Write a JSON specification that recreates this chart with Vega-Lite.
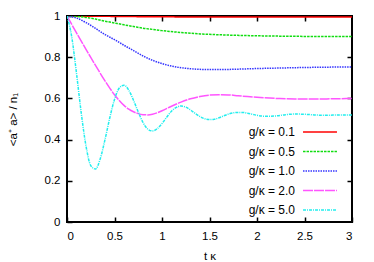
{
  "$schema": "https://vega.github.io/schema/vega-lite/v6.json",
  "width": 285,
  "height": 206,
  "autosize": {"type": "none"},
  "padding": {"left": 67, "top": 16, "right": 22, "bottom": 40},
  "background": "white",
  "config": {
    "view": {"stroke": "black", "strokeWidth": 2},
    "font": "Liberation Sans",
    "axis": {
      "grid": false,
      "domain": false,
      "tickColor": "black",
      "tickSize": -5,
      "tickWidth": 1.5,
      "labelFont": "Liberation Sans",
      "labelFontSize": 11.5,
      "labelColor": "black",
      "titleFont": "Liberation Sans",
      "titleFontSize": 11.5,
      "titleFontWeight": "normal",
      "titleColor": "black"
    },
    "legend": {
      "orient": "none",
      "legendX": 247,
      "legendY": 110,
      "title": null,
      "symbolType": "M-4,0H4",
      "symbolSize": 72,
      "symbolStrokeWidth": 1.5,
      "labelAlign": "right",
      "labelOffset": -31,
      "rowPadding": 7.5,
      "padding": 0,
      "labelFont": "Liberation Sans",
      "labelFontSize": 12,
      "labelColor": "black"
    }
  },
  "datasets": {
    "curves": [
      {"g": "g/κ = 0.1", "t": 0, "v": 1.0},
      {"g": "g/κ = 0.1", "t": 0.5, "v": 0.998},
      {"g": "g/κ = 0.1", "t": 1.0, "v": 0.996},
      {"g": "g/κ = 0.1", "t": 2.0, "v": 0.995},
      {"g": "g/κ = 0.1", "t": 3.0, "v": 0.995},

      {"g": "g/κ = 0.5", "t": 0, "v": 1.0},
      {"g": "g/κ = 0.5", "t": 0.1, "v": 0.998},
      {"g": "g/κ = 0.5", "t": 0.2, "v": 0.993},
      {"g": "g/κ = 0.5", "t": 0.3, "v": 0.985},
      {"g": "g/κ = 0.5", "t": 0.4, "v": 0.975},
      {"g": "g/κ = 0.5", "t": 0.5, "v": 0.966},
      {"g": "g/κ = 0.5", "t": 0.6, "v": 0.957},
      {"g": "g/κ = 0.5", "t": 0.7, "v": 0.949},
      {"g": "g/κ = 0.5", "t": 0.8, "v": 0.941},
      {"g": "g/κ = 0.5", "t": 0.9, "v": 0.935},
      {"g": "g/κ = 0.5", "t": 1.0, "v": 0.929},
      {"g": "g/κ = 0.5", "t": 1.2, "v": 0.92},
      {"g": "g/κ = 0.5", "t": 1.4, "v": 0.913},
      {"g": "g/κ = 0.5", "t": 1.6, "v": 0.909},
      {"g": "g/κ = 0.5", "t": 1.8, "v": 0.906},
      {"g": "g/κ = 0.5", "t": 2.0, "v": 0.904},
      {"g": "g/κ = 0.5", "t": 2.5, "v": 0.901},
      {"g": "g/κ = 0.5", "t": 3.0, "v": 0.9},

      {"g": "g/κ = 1.0", "t": 0, "v": 1.0},
      {"g": "g/κ = 1.0", "t": 0.1, "v": 0.99},
      {"g": "g/κ = 1.0", "t": 0.2, "v": 0.968},
      {"g": "g/κ = 1.0", "t": 0.3, "v": 0.94},
      {"g": "g/κ = 1.0", "t": 0.4, "v": 0.91},
      {"g": "g/κ = 1.0", "t": 0.5, "v": 0.885},
      {"g": "g/κ = 1.0", "t": 0.6, "v": 0.858},
      {"g": "g/κ = 1.0", "t": 0.7, "v": 0.832},
      {"g": "g/κ = 1.0", "t": 0.8, "v": 0.806},
      {"g": "g/κ = 1.0", "t": 0.9, "v": 0.785},
      {"g": "g/κ = 1.0", "t": 1.0, "v": 0.769},
      {"g": "g/κ = 1.0", "t": 1.1, "v": 0.757},
      {"g": "g/κ = 1.0", "t": 1.2, "v": 0.749},
      {"g": "g/κ = 1.0", "t": 1.3, "v": 0.744},
      {"g": "g/κ = 1.0", "t": 1.4, "v": 0.741},
      {"g": "g/κ = 1.0", "t": 1.5, "v": 0.74},
      {"g": "g/κ = 1.0", "t": 1.6, "v": 0.74},
      {"g": "g/κ = 1.0", "t": 1.8, "v": 0.742},
      {"g": "g/κ = 1.0", "t": 2.0, "v": 0.745},
      {"g": "g/κ = 1.0", "t": 2.2, "v": 0.747},
      {"g": "g/κ = 1.0", "t": 2.5, "v": 0.75},
      {"g": "g/κ = 1.0", "t": 2.8, "v": 0.752},
      {"g": "g/κ = 1.0", "t": 3.0, "v": 0.753},

      {"g": "g/κ = 2.0", "t": 0, "v": 1.0},
      {"g": "g/κ = 2.0", "t": 0.05, "v": 0.959},
      {"g": "g/κ = 2.0", "t": 0.1, "v": 0.918},
      {"g": "g/κ = 2.0", "t": 0.15, "v": 0.878},
      {"g": "g/κ = 2.0", "t": 0.2, "v": 0.838},
      {"g": "g/κ = 2.0", "t": 0.25, "v": 0.799},
      {"g": "g/κ = 2.0", "t": 0.3, "v": 0.76},
      {"g": "g/κ = 2.0", "t": 0.35, "v": 0.722},
      {"g": "g/κ = 2.0", "t": 0.4, "v": 0.685},
      {"g": "g/κ = 2.0", "t": 0.45, "v": 0.65},
      {"g": "g/κ = 2.0", "t": 0.5, "v": 0.618},
      {"g": "g/κ = 2.0", "t": 0.55, "v": 0.59},
      {"g": "g/κ = 2.0", "t": 0.6, "v": 0.566},
      {"g": "g/κ = 2.0", "t": 0.65, "v": 0.548},
      {"g": "g/κ = 2.0", "t": 0.7, "v": 0.535},
      {"g": "g/κ = 2.0", "t": 0.75, "v": 0.526},
      {"g": "g/κ = 2.0", "t": 0.8, "v": 0.521},
      {"g": "g/κ = 2.0", "t": 0.85, "v": 0.52},
      {"g": "g/κ = 2.0", "t": 0.9, "v": 0.523},
      {"g": "g/κ = 2.0", "t": 0.95, "v": 0.53},
      {"g": "g/κ = 2.0", "t": 1.0, "v": 0.54},
      {"g": "g/κ = 2.0", "t": 1.1, "v": 0.562},
      {"g": "g/κ = 2.0", "t": 1.2, "v": 0.582},
      {"g": "g/κ = 2.0", "t": 1.3, "v": 0.598},
      {"g": "g/κ = 2.0", "t": 1.4, "v": 0.609},
      {"g": "g/κ = 2.0", "t": 1.5, "v": 0.616},
      {"g": "g/κ = 2.0", "t": 1.6, "v": 0.618},
      {"g": "g/κ = 2.0", "t": 1.7, "v": 0.617},
      {"g": "g/κ = 2.0", "t": 1.8, "v": 0.613},
      {"g": "g/κ = 2.0", "t": 1.9, "v": 0.609},
      {"g": "g/κ = 2.0", "t": 2.0, "v": 0.605},
      {"g": "g/κ = 2.0", "t": 2.2, "v": 0.6},
      {"g": "g/κ = 2.0", "t": 2.4, "v": 0.597},
      {"g": "g/κ = 2.0", "t": 2.6, "v": 0.597},
      {"g": "g/κ = 2.0", "t": 2.8, "v": 0.598},
      {"g": "g/κ = 2.0", "t": 3.0, "v": 0.6},

      {"g": "g/κ = 5.0", "t": 0, "v": 1.0},
      {"g": "g/κ = 5.0", "t": 0.05, "v": 0.898},
      {"g": "g/κ = 5.0", "t": 0.1, "v": 0.722},
      {"g": "g/κ = 5.0", "t": 0.15, "v": 0.529},
      {"g": "g/κ = 5.0", "t": 0.2, "v": 0.369},
      {"g": "g/κ = 5.0", "t": 0.25, "v": 0.274},
      {"g": "g/κ = 5.0", "t": 0.3, "v": 0.257},
      {"g": "g/κ = 5.0", "t": 0.35, "v": 0.307},
      {"g": "g/κ = 5.0", "t": 0.4, "v": 0.4},
      {"g": "g/κ = 5.0", "t": 0.45, "v": 0.505},
      {"g": "g/κ = 5.0", "t": 0.5, "v": 0.595},
      {"g": "g/κ = 5.0", "t": 0.55, "v": 0.65},
      {"g": "g/κ = 5.0", "t": 0.6, "v": 0.664},
      {"g": "g/κ = 5.0", "t": 0.65, "v": 0.64},
      {"g": "g/κ = 5.0", "t": 0.7, "v": 0.591},
      {"g": "g/κ = 5.0", "t": 0.75, "v": 0.534},
      {"g": "g/κ = 5.0", "t": 0.8, "v": 0.483},
      {"g": "g/κ = 5.0", "t": 0.85, "v": 0.451},
      {"g": "g/κ = 5.0", "t": 0.9, "v": 0.442},
      {"g": "g/κ = 5.0", "t": 0.95, "v": 0.453},
      {"g": "g/κ = 5.0", "t": 1.0, "v": 0.478},
      {"g": "g/κ = 5.0", "t": 1.05, "v": 0.509},
      {"g": "g/κ = 5.0", "t": 1.1, "v": 0.538},
      {"g": "g/κ = 5.0", "t": 1.15, "v": 0.556},
      {"g": "g/κ = 5.0", "t": 1.2, "v": 0.563},
      {"g": "g/κ = 5.0", "t": 1.25, "v": 0.558},
      {"g": "g/κ = 5.0", "t": 1.3, "v": 0.544},
      {"g": "g/κ = 5.0", "t": 1.35, "v": 0.527},
      {"g": "g/κ = 5.0", "t": 1.4, "v": 0.512},
      {"g": "g/κ = 5.0", "t": 1.45, "v": 0.501},
      {"g": "g/κ = 5.0", "t": 1.5, "v": 0.497},
      {"g": "g/κ = 5.0", "t": 1.55, "v": 0.499},
      {"g": "g/κ = 5.0", "t": 1.6, "v": 0.506},
      {"g": "g/κ = 5.0", "t": 1.65, "v": 0.515},
      {"g": "g/κ = 5.0", "t": 1.7, "v": 0.524},
      {"g": "g/κ = 5.0", "t": 1.75, "v": 0.53},
      {"g": "g/κ = 5.0", "t": 1.8, "v": 0.532},
      {"g": "g/κ = 5.0", "t": 1.85, "v": 0.532},
      {"g": "g/κ = 5.0", "t": 1.9, "v": 0.528},
      {"g": "g/κ = 5.0", "t": 1.95, "v": 0.523},
      {"g": "g/κ = 5.0", "t": 2.0, "v": 0.518},
      {"g": "g/κ = 5.0", "t": 2.1, "v": 0.513},
      {"g": "g/κ = 5.0", "t": 2.2, "v": 0.515},
      {"g": "g/κ = 5.0", "t": 2.3, "v": 0.521},
      {"g": "g/κ = 5.0", "t": 2.4, "v": 0.524},
      {"g": "g/κ = 5.0", "t": 2.5, "v": 0.523},
      {"g": "g/κ = 5.0", "t": 2.6, "v": 0.52},
      {"g": "g/κ = 5.0", "t": 2.7, "v": 0.518},
      {"g": "g/κ = 5.0", "t": 2.8, "v": 0.519},
      {"g": "g/κ = 5.0", "t": 2.9, "v": 0.52},
      {"g": "g/κ = 5.0", "t": 3.0, "v": 0.52}
    ]
  },
  "data": {"name": "curves"},
  "layer": [
    {
      "mark": {"type": "line", "interpolate": "monotone", "strokeWidth": 1.5, "clip": true},
      "encoding": {
        "x": {
          "field": "t", "type": "quantitative",
          "scale": {"domain": [0, 3], "nice": false},
          "axis": {"orient": "bottom", "values": [0, 0.5, 1, 1.5, 2, 2.5, 3], "format": "~g", "title": "t κ", "labelPadding": 13, "titlePadding": 9}
        },
        "y": {
          "field": "v", "type": "quantitative",
          "scale": {"domain": [0, 1], "nice": false},
          "axis": {"orient": "left", "values": [0, 0.2, 0.4, 0.6, 0.8, 1], "format": "~g", "title": "<a⁺ a> / n₁", "labelPadding": 12, "titlePadding": 26}
        },
        "color": {
          "field": "g", "type": "nominal",
          "scale": {"range": ["#ff0000", "#11dd11", "#3333ff", "#ff55ff", "#22eeee"]}
        },
        "strokeDash": {
          "field": "g", "type": "nominal",
          "scale": {"range": [[1, 0], [2.5, 1], [1.5, 1], [10, 1], [3, 1, 1, 1]]}
        }
      }
    },
    {
      "mark": {"type": "line", "opacity": 0},
      "encoding": {
        "x": {
          "field": "t", "type": "quantitative",
          "axis": {"orient": "top", "values": [0.5, 1, 1.5, 2, 2.5], "labels": false, "title": null}
        },
        "y": {
          "field": "v", "type": "quantitative",
          "axis": {"orient": "right", "values": [0.2, 0.4, 0.6, 0.8], "labels": false, "title": null}
        },
        "detail": {"field": "g"}
      }
    }
  ],
  "resolve": {"axis": {"x": "independent", "y": "independent"}}
}
